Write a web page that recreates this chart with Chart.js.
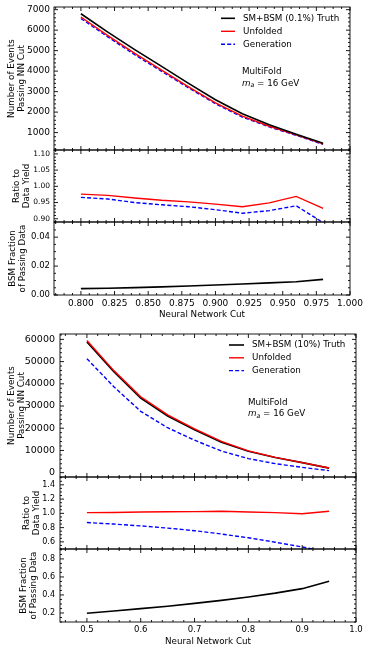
<!DOCTYPE html>
<html lang="en">
<head>
<meta charset="UTF-8">
<title>MultiFold NN cut scan</title>
<style>
  body { margin: 0; padding: 0; background: #fff; font-family: 'DejaVu Sans', sans-serif; }
  #wrap { position: relative; width: 370px; height: 653px; }
  canvas { position: absolute; left: 0; }
</style>
<script src="https://cdn.jsdelivr.net/npm/chart.js"></script>
</head>
<body>
<div id="wrap"></div>
<script>
// ---- top figure: 0.1% BSM injection
const topCuts = [0.80, 0.82, 0.84, 0.86, 0.88, 0.90, 0.92, 0.94, 0.96, 0.98];
const topTruth = [6800, 5900, 5050, 4230, 3400, 2600, 1920, 1380, 920, 480];
const topUnfolded = [6640, 5735, 4870, 4050, 3235, 2455, 1800, 1310, 890, 448];
const topGeneration = [6570, 5670, 4800, 3990, 3185, 2410, 1760, 1275, 865, 426];
const topRatioUnfolded = [0.976, 0.972, 0.964, 0.957, 0.952, 0.945, 0.937, 0.949, 0.969, 0.932];
const topRatioGeneration = [0.966, 0.961, 0.950, 0.943, 0.937, 0.928, 0.917, 0.925, 0.940, 0.888];
const topBsmFraction = [0.0044, 0.0047, 0.0051, 0.0056, 0.0062, 0.0069, 0.0076, 0.0084, 0.0092, 0.0108];

// ---- bottom figure: 10% BSM injection
const botCuts = [0.50, 0.55, 0.60, 0.65, 0.70, 0.75, 0.80, 0.85, 0.90, 0.95];
const botTruth = [58900, 45500, 33500, 25500, 19300, 13700, 9600, 6800, 4500, 2050];
const botUnfolded = [59500, 45950, 34170, 26010, 19690, 14040, 9790, 6870, 4500, 2110];
const botGeneration = [51300, 38680, 27600, 20220, 14610, 9730, 6310, 4050, 2380, 920];
const botRatioUnfolded = [1.010, 1.012, 1.020, 1.022, 1.024, 1.029, 1.020, 1.010, 0.995, 1.029];
const botRatioGeneration = [0.871, 0.850, 0.824, 0.793, 0.757, 0.710, 0.657, 0.595, 0.529, 0.450];
const botBsmFraction = [0.197, 0.222, 0.248, 0.275, 0.307, 0.340, 0.378, 0.420, 0.470, 0.552];

// tick labels
const topXTicks = [0.800, 0.825, 0.850, 0.875, 0.900, 0.925, 0.950, 0.975, 1.000];
const topMainTicks = [1000, 2000, 3000, 4000, 5000, 6000, 7000];
const topRatioTicks = [0.90, 0.95, 1.00, 1.05, 1.10];
const topBsmTicks = [0.00, 0.02, 0.04];
const botXTicks = [0.5, 0.6, 0.7, 0.8, 0.9, 1.0];
const botMainTicks = [0, 10000, 20000, 30000, 40000, 50000, 60000];
const botRatioTicks = [0.6, 0.8, 1.0, 1.2, 1.4];
const botBsmTicks = [0.2, 0.4, 0.6, 0.8];

const topNames = ['SM+BSM (0.1%) Truth', 'Unfolded', 'Generation'];
const botNames = ['SM+BSM (10%) Truth', 'Unfolded', 'Generation'];

const W = 370;
const FONT = 'DejaVu Sans';
Chart.defaults.font.family = FONT;
Chart.defaults.color = '#000';

const black = { color: '#000000', width: 1.6 };
const red = { color: '#ff0000', width: 1.4 };
const blue = { color: '#0000ff', width: 1.4, dash: [4, 2.2] };

function pts(xs, ys) {
    return xs.map((x, i) => ({ x: x, y: ys[i] }));
}

// box + inward major/minor ticks on all four sides, matplotlib style
const frameTicks = {
    id: 'frameTicks',
    afterDatasetsDraw(chart, args, o) {
        const ctx = chart.ctx, a = chart.chartArea;
        const xs = chart.scales.x, ys = chart.scales.y;
        ctx.save();
        ctx.strokeStyle = '#000';
        ctx.lineWidth = 0.9;
        ctx.strokeRect(a.left, a.top, a.right - a.left, a.bottom - a.top);
        const line = (x1, y1, x2, y2) => {
            ctx.beginPath(); ctx.moveTo(x1, y1); ctx.lineTo(x2, y2); ctx.stroke();
        };
        const marks = (scale, major, step) => {
            const out = major.filter(v => v >= scale.min && v <= scale.max).map(v => ({ v: v, len: 4 }));
            const n0 = Math.ceil(scale.min / step - 1e-6), n1 = Math.floor(scale.max / step + 1e-6);
            for (let n = n0; n <= n1; n++) {
                const v = n * step;
                if (!major.some(m => Math.abs(m - v) < step * 0.01)) out.push({ v: v, len: 2 });
            }
            return out;
        };
        for (const t of marks(xs, o.xMajor, o.xMinor)) {
            const p = xs.getPixelForValue(t.v);
            line(p, a.bottom, p, a.bottom - t.len);
            line(p, a.top, p, a.top + t.len);
        }
        for (const t of marks(ys, o.yMajor, o.yMinor)) {
            const p = ys.getPixelForValue(t.v);
            line(a.left, p, a.left + t.len, p);
            line(a.right, p, a.right - t.len, p);
        }
        ctx.restore();
    }
};

const legendBox = {
    id: 'legendBox',
    afterDraw(chart, args, o) {
        if (!o.show) return;
        const ctx = chart.ctx;
        ctx.save();
        ctx.font = '8.75px "' + FONT + '"';
        ctx.textBaseline = 'middle';
        ctx.fillStyle = '#000';
        chart.data.datasets.forEach((ds, i) => {
            const y = o.y + i * o.dy - o.canvasTop;
            ctx.strokeStyle = ds.borderColor;
            ctx.lineWidth = ds.borderWidth;
            ctx.setLineDash(ds.borderDash || []);
            ctx.beginPath(); ctx.moveTo(o.x, y); ctx.lineTo(o.x + o.len, y); ctx.stroke();
            ctx.setLineDash([]);
            ctx.fillText(ds.label, o.textX, y);
        });
        ctx.restore();
    }
};

const notes = {
    id: 'notes',
    afterDraw(chart, args, o) {
        if (!o.show) return;
        const ctx = chart.ctx;
        ctx.save();
        ctx.fillStyle = '#000';
        ctx.textBaseline = 'middle';
        ctx.font = '8.75px "' + FONT + '"';
        ctx.fillText('MultiFold', o.x, o.y - o.canvasTop);
        const y2 = o.y + 11.5 - o.canvasTop;
        let x = o.x;
        ctx.font = 'italic 8.75px "' + FONT + '"';
        ctx.fillText('m', x, y2);
        x += ctx.measureText('m').width;
        ctx.font = 'italic 6.2px "' + FONT + '"';
        ctx.fillText('a', x, y2 + 2);
        x += ctx.measureText('a').width;
        ctx.font = '8.75px "' + FONT + '"';
        ctx.fillText(' = 16 GeV', x, y2);
        ctx.restore();
    }
};

function makePanel(p) {
    const padT = 12, padB = p.xTitle ? 30 : 12;
    const h = p.bottom - p.top + padT + padB;
    const canvasTop = p.top - padT;
    const c = document.createElement('canvas');
    c.width = W; c.height = h;
    c.style.top = canvasTop + 'px';
    document.getElementById('wrap').appendChild(c);

    new Chart(c, {
        type: 'line',
        data: {
            datasets: p.series.map((s, i) => ({
                label: p.names ? p.names[i] : '',
                data: pts(p.xs, s.ys),
                borderColor: s.style.color,
                borderWidth: s.style.width,
                borderDash: s.style.dash || [],
                pointRadius: 0,
                fill: false,
                tension: 0,
                order: s.order || 0
            }))
        },
        options: {
            responsive: false,
            animation: false,
            events: [],
            layout: { padding: { top: padT, bottom: p.xTitle ? 0 : padB, left: 0, right: W - p.right } },
            plugins: {
                legend: { display: false },
                tooltip: { enabled: false },
                frameTicks: { xMajor: p.xTicks, xMinor: p.xMinor, yMajor: p.yTicks, yMinor: p.yMinor },
                legendBox: Object.assign({ show: false, canvasTop: canvasTop }, p.legend || {}),
                notes: Object.assign({ show: false, canvasTop: canvasTop }, p.note || {})
            },
            scales: {
                x: {
                    type: 'linear',
                    min: p.xMin, max: p.xMax,
                    bounds: 'data',
                    display: !!p.xTitle,
                    grid: { display: false, drawTicks: false },
                    border: { display: false },
                    afterBuildTicks: s => { s.ticks = p.xTicks.map(v => ({ value: v })); },
                    afterFit: s => { if (p.xTitle) s.height = padB; },
                    ticks: {
                        autoSkip: false, maxRotation: 0, padding: 3,
                        font: { size: p.xTickSize || 9 }, color: '#000',
                        callback: v => v.toFixed(p.xDec)
                    },
                    title: {
                        display: !!p.xTitle, text: p.xTitle, color: '#000',
                        font: { size: 8.75 }, padding: { top: 0, bottom: 5.5 }
                    }
                },
                y: {
                    type: 'linear',
                    min: p.yMin, max: p.yMax,
                    bounds: 'data',
                    grid: { display: false, drawTicks: false },
                    border: { display: false },
                    afterBuildTicks: s => { s.ticks = p.yTicks.map(v => ({ value: v })); },
                    afterFit: s => { s.width = p.left; },
                    ticks: {
                        autoSkip: false, padding: p.yPad,
                        font: { size: p.yTickSize }, color: '#000',
                        callback: v => v.toFixed(p.yDec)
                    },
                    title: {
                        display: true, text: p.yTitle, color: '#000',
                        font: { size: 8.75, lineHeight: 1.15 }, padding: { top: p.titlePad, bottom: 0 }
                    }
                }
            }
        },
        plugins: [frameTicks, legendBox, notes]
    });
}

// top figure
const topX = { xs: topCuts, xMin: 0.78, xMax: 1.0, xTicks: topXTicks, xMinor: 0.00625, xDec: 3, left: 54, right: 350 };
makePanel(Object.assign({}, topX, {
    top: 7, bottom: 150, yMin: 150, yMax: 7130, yTicks: topMainTicks, yMinor: 200, yDec: 0, yTickSize: 9, yPad: 4,
    yTitle: ['Number of Events', 'Passing NN Cut'], titlePad: 7,
    names: topNames,
    series: [{ ys: topTruth, style: black }, { ys: topUnfolded, style: red }, { ys: topGeneration, style: blue }],
    legend: { show: true, x: 221, len: 14, textX: 243, y: 18.3, dy: 13 },
    note: { show: true, x: 242, y: 72 }
}));
makePanel(Object.assign({}, topX, {
    top: 150, bottom: 222, yMin: 0.89, yMax: 1.112, yTicks: topRatioTicks, yMinor: 0.01, yDec: 2, yTickSize: 7.5, yPad: 4,
    yTitle: ['Ratio to', 'Data Yield'], titlePad: 12,
    series: [{ ys: topRatioUnfolded, style: red }, { ys: topRatioGeneration, style: blue }]
}));
makePanel(Object.assign({}, topX, {
    top: 222, bottom: 295, yMin: 0, yMax: 0.0505, yTicks: topBsmTicks, yMinor: 0.005, yDec: 2, yTickSize: 8.5, yPad: 4,
    yTitle: ['BSM Fraction', 'of Passing Data'], titlePad: 8,
    series: [{ ys: topBsmFraction, style: black }],
    xTitle: 'Neural Network Cut', xTickSize: 9
}));

// bottom figure
const botX = { xs: botCuts, xMin: 0.45, xMax: 1.0, xTicks: botXTicks, xMinor: 0.02, xDec: 1, left: 60, right: 356 };
makePanel(Object.assign({}, botX, {
    top: 334, bottom: 477, yMin: -1960, yMax: 62430, yTicks: botMainTicks, yMinor: 2000, yDec: 0, yTickSize: 9.5, yPad: 5,
    yTitle: ['Number of Events', 'Passing NN Cut'], titlePad: 6.5,
    names: botNames,
    series: [{ ys: botTruth, style: black, order: 1 }, { ys: botUnfolded, style: red, order: 0 }, { ys: botGeneration, style: blue, order: 2 }],
    legend: { show: true, x: 229, len: 15, textX: 252, y: 345, dy: 12.8 },
    note: { show: true, x: 248, y: 402.5 }
}));
makePanel(Object.assign({}, botX, {
    top: 477, bottom: 549, yMin: 0.5, yMax: 1.51, yTicks: botRatioTicks, yMinor: 0.05, yDec: 1, yTickSize: 8, yPad: 5,
    yTitle: ['Ratio to', 'Data Yield'], titlePad: 21.5,
    series: [{ ys: botRatioUnfolded, style: red }, { ys: botRatioGeneration, style: blue }]
}));
makePanel(Object.assign({}, botX, {
    top: 549, bottom: 622, yMin: 0.1, yMax: 0.91, yTicks: botBsmTicks, yMinor: 0.05, yDec: 1, yTickSize: 8, yPad: 5,
    yTitle: ['BSM Fraction', 'of Passing Data'], titlePad: 18.5,
    series: [{ ys: botBsmFraction, style: black }],
    xTitle: 'Neural Network Cut', xTickSize: 8.5
}));
</script>
</body>
</html>
